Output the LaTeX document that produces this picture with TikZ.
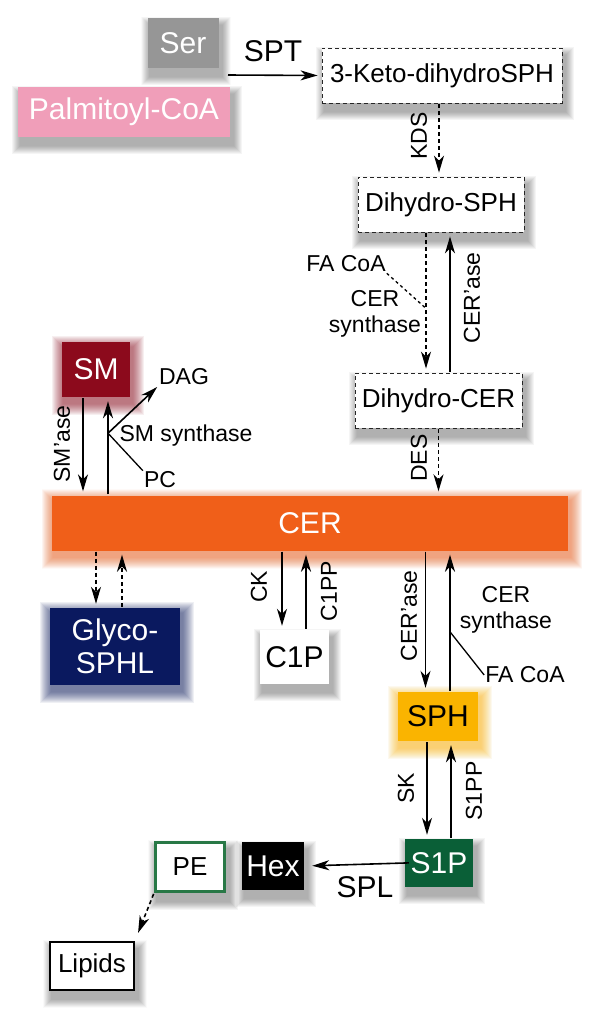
\documentclass[tikz,border=0pt]{standalone}
\usepackage{fontspec}
\setmainfont{Liberation Sans}
\usetikzlibrary{arrows.meta,positioning,calc}
\definecolor{sercolor}{RGB}{150,150,150}
\definecolor{palmcolor}{RGB}{240,158,185}
\definecolor{cercolor}{RGB}{240,95,25}
\definecolor{smcolor}{RGB}{140,10,28}
\definecolor{glycolor}{RGB}{10,25,95}
\definecolor{sphcolor}{RGB}{250,180,0}
\definecolor{sonepcolor}{RGB}{10,95,55}
\definecolor{pecolor}{RGB}{40,120,70}
\pgfdeclarelayer{bg}
\pgfsetlayers{bg,main}
% soft grey shadow, down and to the right of a node
\newcommand{\dropshade}[1]{%
  \foreach \k in {1,1.5,...,9}{
    \fill[black, opacity=0.02] ($(#1.south west)+(3-\k,8+\k)$) rectangle ($(#1.north east)+(3+\k,8-\k)$);
  }}
% coloured halo round a node
\newcommand{\glowshade}[2]{%
  \foreach \k in {1,1.5,...,12}{
    \fill[#2, opacity=0.03] ($(#1.south west)+(2-\k,6+\k)$) rectangle ($(#1.north east)+(2+\k,6-\k)$);
  }}
\tikzset{
  mbox/.style    = {rectangle, inner sep=0pt, font=\fontsize{30}{32}\selectfont},
  colbox/.style  = {mbox, text=white},
  dashbox/.style = {mbox, fill=white, draw=black!85, line width=0.8pt,
                    dash pattern=on 4pt off 3pt, font=\fontsize{26}{28}\selectfont},
  lbl/.style     = {font=\fontsize{23}{26}\selectfont, inner sep=1pt},
  vlbl/.style    = {lbl, rotate=90},
  biglbl/.style  = {font=\fontsize{30}{32}\selectfont, inner sep=1pt},
  conn/.style    = {-{Stealth[length=17pt,width=10pt,inset=5pt]}, line width=1.6pt,
                    shorten <=1pt, shorten >=4pt}, % small gap at the tips
  dconn/.style   = {conn, dash pattern=on 4pt off 3pt},
  branch/.style  = {line width=1.3pt}
}

\begin{document}
\begin{tikzpicture}[x=1pt,y=-1pt]
\useasboundingbox (0,0) rectangle (600,1023);

% --- de novo start ---
\node[colbox, fill=sercolor, minimum width=71pt, minimum height=50pt] (ser) at (183,43) {Ser};
\node[colbox, fill=palmcolor, minimum width=212pt, minimum height=50pt] (palm) at (124,112) {Palmitoyl-CoA};
\node[dashbox, minimum width=240pt, minimum height=55pt] (keto) at (442,75.5) {3-Keto-dihydroSPH};
\node[dashbox, minimum width=166pt, minimum height=55pt] (dhsph) at (441,204.5) {Dihydro-SPH};
\node[dashbox, minimum width=167pt, minimum height=55pt] (dhcer) at (438.5,400.5) {Dihydro-CER};

% --- ceramide and its products ---
\node[colbox, fill=cercolor, minimum width=516pt, minimum height=55pt] (cer) at (310,523) {CER};
\node[colbox, fill=smcolor, minimum width=68pt, minimum height=55pt] (sm) at (96,369.5) {SM};
\node[colbox, fill=glycolor, minimum width=130pt, minimum height=77pt,
      align=center, font=\fontsize{30}{33}\selectfont] (glyco) at (115,646.5) {Glyco-\\SPHL};
\node[colbox, fill=white, text=black, minimum width=69pt, minimum height=54pt] (c1p) at (294.5,657) {C1P};
\node[colbox, fill=sphcolor, text=black, minimum width=80pt, minimum height=49pt] (sph) at (438,716.5) {SPH};
\node[colbox, fill=sonepcolor, minimum width=68pt, minimum height=48pt] (s1p) at (439,863) {S1P};
\node[colbox, fill=black, minimum width=62pt, minimum height=48pt] (hex) at (273,866) {Hex};
\node[mbox, fill=white, draw=pecolor, line width=3pt, minimum width=69pt, minimum height=49pt,
      font=\fontsize{26}{28}\selectfont] (pe) at (190,867) {PE};
\node[mbox, fill=white, draw=black, line width=1.5pt, minimum width=84pt, minimum height=48pt,
      font=\fontsize{26}{28}\selectfont] (lipids) at (92,966) {Lipids};

% --- shadows and halos ---
\begin{pgfonlayer}{bg}
  \fill[white] (0,0) rectangle (600,1023);
  \foreach \nd in {ser,palm,keto,dhsph,dhcer,c1p,s1p,hex,pe,lipids}{\dropshade{\nd}}
  \glowshade{cer}{cercolor}
  \glowshade{sm}{smcolor}
  \glowshade{glyco}{glycolor}
  \glowshade{sph}{sphcolor}
\end{pgfonlayer}

% --- enzyme labels ---
\node[biglbl] (spt) at (273,51) {SPT};
\node[biglbl] (spl) at (365,887) {SPL};
\node[vlbl] (kds) at (419,136) {KDS};
\node[lbl] (facoa) at (346,264) {FA CoA};
\node[lbl, align=center] (synth) at (375,314) {CER\\synthase};
\node[vlbl] (cerase) at (472,298) {CER'ase};
\node[vlbl] (des) at (419,458) {DES};
\node[vlbl] (smase) at (62,444) {SM'ase};
\node[lbl] (dag) at (184,377) {DAG};
\node[lbl] (smsynth) at (186,436) {SM synthase};
\node[lbl] (pc) at (160,480) {PC};
\node[vlbl] (ck) at (259,587) {CK};
\node[vlbl] (conepp) at (329,591) {C1PP};
\node[vlbl] (ceraseb) at (409,616) {CER'ase};
\node[lbl, align=center] (synthb) at (506,610) {CER\\synthase};
\node[lbl] (facoab) at (525,675) {FA CoA};
\node[vlbl] (sk) at (406,788) {SK};
\node[vlbl] (sonepp) at (474,791) {S1PP};

% --- upper pathway ---
\coordinate (sptstart) at (227,75);
\draw[conn] (sptstart) -- (keto.west);
\draw[dconn] ($(keto.south)+(-3,0)$) -- ($(dhsph.north)+(-2,0)$);
\draw[dconn] ($(dhsph.south)+(-15,0)$) -- ($(dhcer.north)+(-12.5,0)$);
\draw[conn] ($(dhcer.north)+(11.5,0)$) -- ($(dhsph.south)+(9,0)$);
\coordinate (dhjoin) at ($(dhsph.south)+(-15,76)$);
\draw[branch, dash pattern=on 3pt off 3pt] (facoa.south east) -- (dhjoin);
\draw[dconn] (dhcer.south) -- (dhcer.south |- cer.north);

% --- SM branch ---
\draw[conn] ($(sm.south)+(-13,0)$) -- ($(sm.south |- cer.north)+(-13,0)$);
\draw[conn] ($(sm.south |- cer.north)+(12,0)$) -- ($(sm.south)+(12,0)$);
\coordinate (smjoin) at ($(sm.south)+(12,36)$);
\draw[conn, shorten <=0pt, shorten >=1pt] (smjoin) -- (dag.south west);
\draw[branch] (smjoin) -- (pc.north west);

% --- below the CER bar ---
\draw[dconn] ($(cer.south -| glyco.north)+(-19,0)$) -- ($(glyco.north)+(-19,0)$);
\draw[dconn] ($(glyco.north)+(7,0)$) -- ($(cer.south -| glyco.north)+(7,0)$);
\draw[conn] ($(cer.south -| c1p.north)+(-12.5,0)$) -- ($(c1p.north)+(-12.5,0)$);
\draw[conn] ($(c1p.north)+(11.5,0)$) -- ($(cer.south -| c1p.north)+(11.5,0)$);
\draw[conn] ($(cer.south -| sph.north)+(-12.5,0)$) -- ($(sph.north)+(-12.5,0)$);
\draw[conn] ($(sph.north)+(12,0)$) -- ($(cer.south -| sph.north)+(12,0)$);
\coordinate (sphjoin) at ($(sph.north)+(12,-60)$);
\draw[branch] (sphjoin) -- (facoab.west);

% --- SPH / S1P and breakdown ---
\draw[conn] ($(sph.south)+(-11,0)$) -- ($(s1p.north)+(-12,0)$);
\draw[conn] ($(s1p.north)+(12,0)$) -- ($(sph.south)+(13,0)$);
\draw[conn, shorten <=-4pt, shorten >=8pt] (s1p.west) -- (hex.east);
\draw[dconn, shorten >=9pt] (pe.south west) -- (lipids.north east);

\end{tikzpicture}
\end{document}
